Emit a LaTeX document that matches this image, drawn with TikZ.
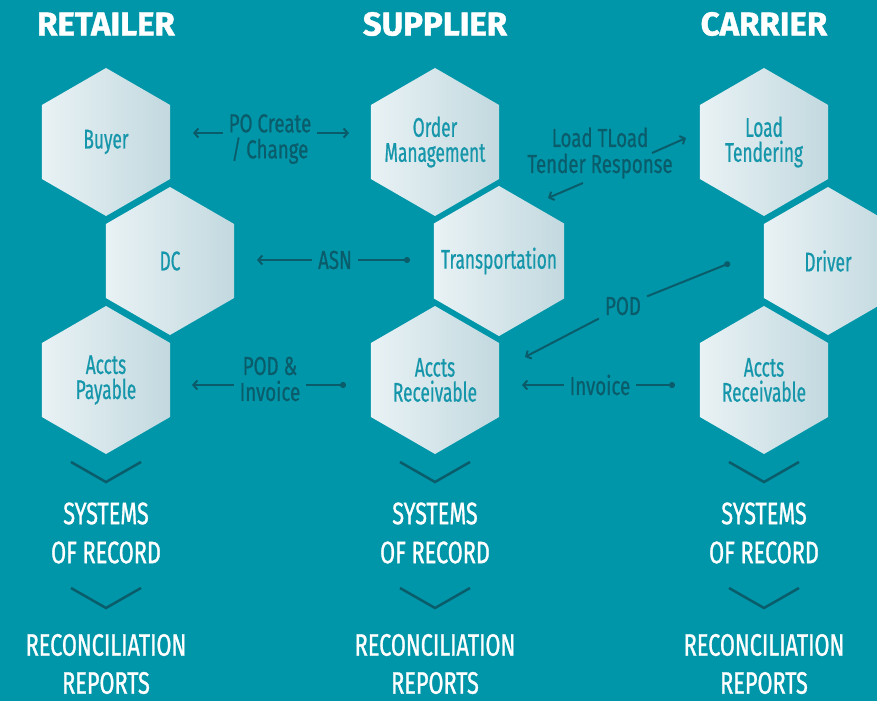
\documentclass[tikz,border=0pt]{standalone}
\usepackage{fontspec}
\setmainfont{Fira Sans}[FakeStretch=0.64,FakeBold=0.6]
\newfontfamily\headfont{Fira Sans}[FakeStretch=1.0,BoldFeatures={FakeBold=1.2}]
\newfontfamily\flowfont{Fira Sans}[FakeStretch=0.72,FakeBold=0.6]
\newfontfamily\capfont{Fira Sans}[FakeStretch=0.70,FakeBold=0.9]
\usepackage{tikz}
\usetikzlibrary{arrows.meta,positioning,calc,shapes.geometric}

\definecolor{bg}{HTML}{0096A9}
\definecolor{hexL}{HTML}{E9F2F5}
\definecolor{hexR}{HTML}{C2D9DF}
\definecolor{hextext}{HTML}{1696AA}
\definecolor{flowc}{HTML}{0B5C6A}

\begin{document}
\begin{tikzpicture}[x=1pt,y=-1pt,>={Straight Barb[length=4pt,width=9pt]}]
\tikzstyle{hexa}=[regular polygon,regular polygon sides=6,shape border rotate=30,minimum size=148pt,inner sep=-12pt,left color=hexL,right color=hexR,text=hextext,align=center,font=\fontsize{27}{25}\selectfont]
  \tikzstyle{flow}=[text=flowc,align=center,inner sep=6pt,font=\flowfont\fontsize{26}{26}\selectfont]
  \tikzstyle{link}=[draw=flowc,line width=2pt]
  \tikzstyle{chev}=[draw=flowc,line width=2.5pt]
  \tikzstyle{head}=[text=white,font=\headfont\bfseries\fontsize{33}{33}\selectfont]
  \tikzstyle{sor}=[text=white,align=center,font=\capfont\fontsize{31}{39}\selectfont]
  \tikzstyle{recon}=[text=white,align=center,font=\capfont\fontsize{31}{38}\selectfont]
%
\useasboundingbox (0,0) rectangle (877,701);
  \clip (0,0) rectangle (877,701);
  \fill[bg] (0,0) rectangle (877,701);
%
% column headers
\node[head] (retailer) at (106,24) {RETAILER};
  \node[head] (supplier) at (435,24) {SUPPLIER};
  \node[head] (carrier) at (764,24) {CARRIER};
% retailer
\node[hexa] (buyer) at (106,142) {Buyer};
  \node[hexa] (dc) at ($(buyer)+(64,119)$) {DC};
  \node[hexa] (payable) at ($(dc)+(-64,119)$) {Accts\\Payable};
% supplier
\node[hexa] (order) at (435,142) {Order\\Management};
  \node[hexa] (transport) at ($(order)+(64,119)$) {Transportation};
  \node[hexa] (receivable) at ($(transport)+(-64,119)$) {Accts\\Receivable};
% carrier
\node[hexa] (tendering) at (764,142) {Load\\Tendering};
  \node[hexa] (driver) at ($(tendering)+(64,119)$) {Driver};
  \node[hexa] (carrierrecv) at ($(driver)+(-64,119)$) {Accts\\Receivable};
%
% messages between the parties
\node[flow] (po) at (270,139) {PO Create\\/ Change};
  \coordinate (poL) at (193,133);
  \coordinate (poR) at (349,133);
  \path (po.west |- poL) edge[link,->] (poL);
  \path (po.east |- poR) edge[link,->] (poR);

  \node[flow] (asn) at (335,260) {ASN};
  \coordinate (asnL) at (257,260);
  \coordinate (asnR) at (410,260);
  \path (asn) edge[link,->] (asnL);
  \path (asn) edge[link,-{Circle[length=6pt]}] (asnR);

  \node[flow] (tender) at (600,153) {Load TLoad\\Tender Response};
  \coordinate (ltA) at (652,153);
  \coordinate (ltB) at (686,138);
  \coordinate (ltC) at (583,183);
  \coordinate (ltD) at (548,198);
  \path (ltA) edge[link,->] (ltB);
  \path (ltC) edge[link,->] (ltD);

  \node[flow] (pod) at (623,306) {POD};
  \coordinate (podA) at (730,263);
  \coordinate (podB) at (525,357);
  \path (pod) edge[link,-{Circle[length=6pt]}] (podA);
  \path (pod) edge[link,->] (podB);

  \node[flow] (podinv) at (270,379) {POD \&\\Invoice};
  \coordinate (piL) at (192,385);
  \coordinate (piR) at (346,385);
  \path (podinv.west |- piL) edge[link,->] (piL);
  \path (podinv.east |- piR) edge[link,-{Circle[length=6pt]}] (piR);

  \node[flow] (invoice) at (600,385) {Invoice};
  \coordinate (invL) at (522,385);
  \coordinate (invR) at (675,385);
  \path (invoice) edge[link,->] (invL);
  \path (invoice) edge[link,-{Circle[length=6pt]}] (invR);
%
% chevrons and record/report stages
\draw[chev] (71,462) -- (106,482) -- (141,462);
  \draw[chev] (400,462) -- (435,482) -- (470,462);
  \draw[chev] (729,462) -- (764,482) -- (799,462);
  \draw[chev] (71,588) -- (106,608) -- (141,588);
  \draw[chev] (400,588) -- (435,608) -- (470,588);
  \draw[chev] (729,588) -- (764,608) -- (799,588);

  \node[sor] (sorR) at (106,533) {SYSTEMS\\OF RECORD};
  \node[sor] (sorS) at (435,533) {SYSTEMS\\OF RECORD};
  \node[sor] (sorC) at (764,533) {SYSTEMS\\OF RECORD};
  \node[recon] (recR) at (106,664) {RECONCILIATION\\REPORTS};
  \node[recon] (recS) at (435,664) {RECONCILIATION\\REPORTS};
  \node[recon] (recC) at (764,664) {RECONCILIATION\\REPORTS};
\end{tikzpicture}
\end{document}
